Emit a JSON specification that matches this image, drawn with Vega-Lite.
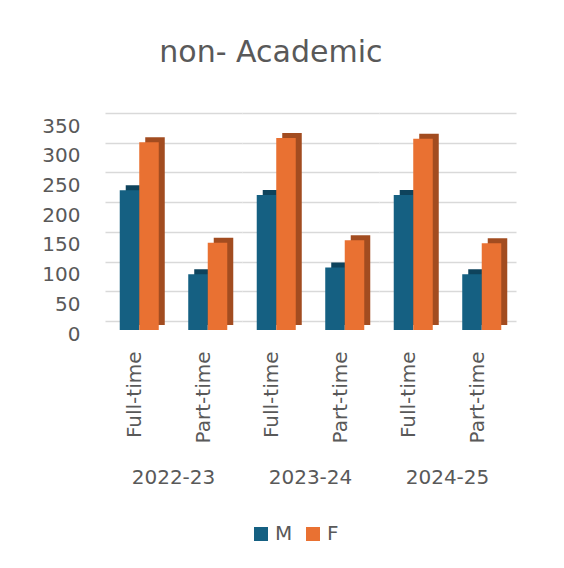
{
  "$schema": "https://vega.github.io/schema/vega-lite/v6.json",
  "background": "white",
  "padding": {"left": 41, "top": 38, "right": 10, "bottom": 10},
  "title": {"text": "non- Academic", "fontSize": 30, "font": "DejaVu Sans", "fontWeight": "normal", "color": "#595959", "anchor": "middle", "offset": 45, "dx": -8},
  "data": {"values": [
    {"year": "2022-23", "type": "Full-time", "sex": "M", "value": 235},
    {"year": "2022-23", "type": "Full-time", "sex": "F", "value": 316},
    {"year": "2022-23", "type": "Part-time", "sex": "M", "value": 94},
    {"year": "2022-23", "type": "Part-time", "sex": "F", "value": 147},
    {"year": "2023-24", "type": "Full-time", "sex": "M", "value": 227},
    {"year": "2023-24", "type": "Full-time", "sex": "F", "value": 323},
    {"year": "2023-24", "type": "Part-time", "sex": "M", "value": 105},
    {"year": "2023-24", "type": "Part-time", "sex": "F", "value": 151},
    {"year": "2024-25", "type": "Full-time", "sex": "M", "value": 227},
    {"year": "2024-25", "type": "Full-time", "sex": "F", "value": 322},
    {"year": "2024-25", "type": "Part-time", "sex": "M", "value": 94},
    {"year": "2024-25", "type": "Part-time", "sex": "F", "value": 146}
  ]},
  "facet": {"column": {"field": "year", "type": "ordinal", "header": {"title": null, "labelOrient": "bottom", "labelFontSize": 20, "labelFont": "DejaVu Sans", "labelColor": "#595959", "labelPadding": 25}}},
  "spacing": 0,
  "spec": {
    "width": 137,
    "height": 208,
    "encoding": {
      "x": {"field": "type", "type": "nominal", "scale": {"paddingInner": 0.43, "paddingOuter": 0.215}, "axis": {"title": null, "labelAngle": -90, "labelFontSize": 20, "labelFont": "DejaVu Sans", "labelColor": "#595959", "labelPadding": 21, "labelOffset": -4, "domain": false, "ticks": false}},
      "y": {"field": "value", "type": "quantitative", "stack": null, "scale": {"domain": [0, 350], "nice": false}, "axis": {"title": null, "values": [0, 50, 100, 150, 200, 250, 300, 350], "labelOverlap": false, "labelFontSize": 20, "labelFont": "DejaVu Sans", "labelColor": "#595959", "labelPadding": 25, "labelOffset": 13, "domain": false, "ticks": false, "gridColor": "#d9d9d9", "gridWidth": 1.5}},
      "y2": {"datum": 0}
    },
    "layer": [
      {
        "transform": [{"filter": "datum.sex === 'M'"}],
        "mark": {"type": "bar", "width": {"band": 0.5}, "color": "#0E435C", "xOffset": -3.75, "yOffset": 4, "y2Offset": 4}
      },
      {
        "transform": [{"filter": "datum.sex === 'F'"}],
        "mark": {"type": "bar", "width": {"band": 0.5}, "color": "#A24C20", "xOffset": 15.75, "yOffset": 4, "y2Offset": 4}
      },
      {
        "transform": [{"filter": "datum.sex === 'M'"}],
        "mark": {"type": "bar", "width": {"band": 0.5}, "xOffset": -9.75, "yOffset": 9, "y2Offset": 9},
        "encoding": {
          "color": {"field": "sex", "type": "nominal", "scale": {"domain": ["M", "F"], "range": ["#156082", "#E97132"]}, "legend": {"title": null, "orient": "none", "legendX": 146, "legendY": 411, "direction": "horizontal", "symbolType": "square", "symbolSize": 196, "symbolStrokeWidth": 0, "labelFontSize": 20, "labelFont": "DejaVu Sans", "labelColor": "#595959", "columnPadding": 10, "labelOffset": 4}}
        }
      },
      {
        "transform": [{"filter": "datum.sex === 'F'"}],
        "mark": {"type": "bar", "width": {"band": 0.5}, "xOffset": 9.75, "yOffset": 9, "y2Offset": 9},
        "encoding": {
          "color": {"field": "sex", "type": "nominal", "scale": {"domain": ["M", "F"], "range": ["#156082", "#E97132"]}}
        }
      }
    ]
  },
  "config": {"view": {"stroke": null}}
}
